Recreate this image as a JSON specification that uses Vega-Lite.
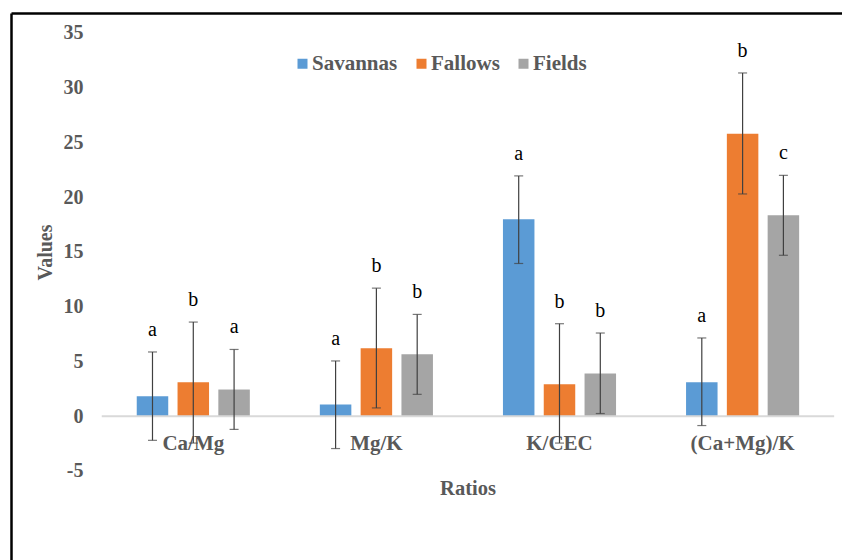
{
  "$schema": "https://vega.github.io/schema/vega-lite/v6.json",
  "width": 831,
  "height": 547,
  "autosize": {"type": "none"},
  "padding": {"left": 11, "top": 13, "right": 0, "bottom": 0},
  "background": "white",
  "config": {
    "view": {"stroke": null},
    "font": "Liberation Serif",
    "axisY": {
      "labelPadding": -72, "labelAlign": "right", "labelBaseline": "middle",
      "labelExpr": "replace(datum.label, '\u2212', '-')",
      "labelFont": "Liberation Serif", "labelFontSize": 20, "labelFontWeight": "bold", "labelColor": "#595959",
      "ticks": false, "tickSize": 0, "grid": false,
      "domain": true, "domainColor": "#000000", "domainWidth": 2.5,
      "titleFont": "Liberation Serif", "titleFontSize": 20, "titleFontWeight": "bold", "titleColor": "#595959",
      "titleX": 34, "titleY": 239, "titleAngle": -90, "titleAlign": "center", "titleBaseline": "middle"
    }
  },
  "data": {"values": [
    {"ratio": "Ca/Mg", "group": "Savannas", "value": 1.83, "lo": -2.2, "hi": 5.87, "letter": "a"},
    {"ratio": "Ca/Mg", "group": "Fallows", "value": 3.1, "lo": -2.45, "hi": 8.6, "letter": "b"},
    {"ratio": "Ca/Mg", "group": "Fields", "value": 2.44, "lo": -1.2, "hi": 6.1, "letter": "a"},
    {"ratio": "Mg/K", "group": "Savannas", "value": 1.07, "lo": -2.95, "hi": 5.05, "letter": "a"},
    {"ratio": "Mg/K", "group": "Fallows", "value": 6.2, "lo": 0.76, "hi": 11.7, "letter": "b"},
    {"ratio": "Mg/K", "group": "Fields", "value": 5.66, "lo": 2.0, "hi": 9.3, "letter": "b"},
    {"ratio": "K/CEC", "group": "Savannas", "value": 18.0, "lo": 13.95, "hi": 21.95, "letter": "a"},
    {"ratio": "K/CEC", "group": "Fallows", "value": 2.92, "lo": -2.45, "hi": 8.45, "letter": "b"},
    {"ratio": "K/CEC", "group": "Fields", "value": 3.9, "lo": 0.25, "hi": 7.6, "letter": "b"},
    {"ratio": "(Ca+Mg)/K", "group": "Savannas", "value": 3.1, "lo": -0.85, "hi": 7.15, "letter": "a"},
    {"ratio": "(Ca+Mg)/K", "group": "Fallows", "value": 25.8, "lo": 20.3, "hi": 31.35, "letter": "b"},
    {"ratio": "(Ca+Mg)/K", "group": "Fields", "value": 18.36, "lo": 14.7, "hi": 22.0, "letter": "c"}
  ]},
  "layer": [
    {
      "mark": {"type": "bar"},
      "encoding": {
        "x": {
          "field": "ratio", "type": "nominal",
          "scale": {"domain": ["Ca/Mg", "Mg/K", "K/CEC", "(Ca+Mg)/K"], "paddingInner": 0, "paddingOuter": 0.2692, "align": 0.9204},
          "axis": {
            "orient": "bottom", "offset": -111, "labelBaseline": "alphabetic", "labelPadding": 0,
            "ticks": false, "tickSize": 0, "domain": false, "grid": false, "labelAngle": 0,
            "labelFont": "Liberation Serif", "labelFontSize": 21, "labelFontWeight": "bold", "labelColor": "#595959",
            "title": "Ratios", "titleFont": "Liberation Serif", "titleFontSize": 20.5, "titleFontWeight": "bold", "titleColor": "#595959",
            "titleX": 456.5, "titleY": 39, "titleAlign": "center", "titleBaseline": "middle"
          }
        },
        "xOffset": {"field": "group", "type": "nominal", "scale": {"domain": ["Savannas", "Fallows", "Fields"], "paddingInner": 0.228, "paddingOuter": 0.858}},
        "y": {
          "field": "value", "type": "quantitative", "title": "Values",
          "scale": {"domain": [-13.128, 36.826], "nice": false, "zero": false},
          "axis": {"values": [-5, 0, 5, 10, 15, 20, 25, 30, 35]}
        },
        "color": {
          "field": "group", "type": "nominal",
          "scale": {"domain": ["Savannas", "Fallows", "Fields"], "range": ["#5B9BD5", "#ED7D31", "#A5A5A5"]},
          "legend": {
            "title": null, "orient": "none", "legendX": 281, "legendY": 40, "direction": "horizontal",
            "symbolType": "square", "symbolSize": 100, "symbolStrokeWidth": 0,
            "labelFont": "Liberation Serif", "labelFontSize": 21, "labelFontWeight": "bold", "labelColor": "#595959",
            "columnPadding": 13, "labelOffset": -1
          }
        }
      }
    },
    {
      "data": {"values": [{}]},
      "mark": {"type": "rule", "color": "#D9D9D9", "strokeWidth": 2},
      "encoding": {
        "x": {"datum": "Ca/Mg", "type": "nominal", "bandPosition": 0, "axis": null},
        "x2": {"datum": "(Ca+Mg)/K", "bandPosition": 1},
        "y": {"datum": 0, "type": "quantitative", "title": "Values", "axis": {"values": [-5, 0, 5, 10, 15, 20, 25, 30, 35]}}
      }
    },
    {
      "mark": {"type": "rule", "color": "#404040", "strokeWidth": 1.2},
      "encoding": {
        "x": {"field": "ratio", "type": "nominal", "axis": null},
        "xOffset": {"field": "group", "type": "nominal"},
        "y": {"field": "lo", "type": "quantitative", "title": "Values", "axis": {"values": [-5, 0, 5, 10, 15, 20, 25, 30, 35]}},
        "y2": {"field": "hi"}
      }
    },
    {
      "mark": {"type": "tick", "orient": "horizontal", "size": 9, "thickness": 1.2, "color": "#404040"},
      "encoding": {
        "x": {"field": "ratio", "type": "nominal", "axis": null},
        "xOffset": {"field": "group", "type": "nominal"},
        "y": {"field": "hi", "type": "quantitative", "title": "Values", "axis": {"values": [-5, 0, 5, 10, 15, 20, 25, 30, 35]}}
      }
    },
    {
      "mark": {"type": "tick", "orient": "horizontal", "size": 9, "thickness": 1.2, "color": "#404040"},
      "encoding": {
        "x": {"field": "ratio", "type": "nominal", "axis": null},
        "xOffset": {"field": "group", "type": "nominal"},
        "y": {"field": "lo", "type": "quantitative", "title": "Values", "axis": {"values": [-5, 0, 5, 10, 15, 20, 25, 30, 35]}}
      }
    },
    {
      "mark": {"type": "text", "font": "Liberation Serif", "fontSize": 20, "color": "#000000", "baseline": "middle", "dy": -22},
      "encoding": {
        "x": {"field": "ratio", "type": "nominal", "axis": {"orient": "top", "labels": false, "ticks": false, "domain": true, "domainColor": "#000000", "domainWidth": 2.5, "title": null, "grid": false}},
        "xOffset": {"field": "group", "type": "nominal"},
        "y": {"field": "hi", "type": "quantitative", "title": "Values", "axis": {"values": [-5, 0, 5, 10, 15, 20, 25, 30, 35]}},
        "text": {"field": "letter"}
      }
    }
  ],
  "resolve": {"axis": {"x": "independent"}}
}
